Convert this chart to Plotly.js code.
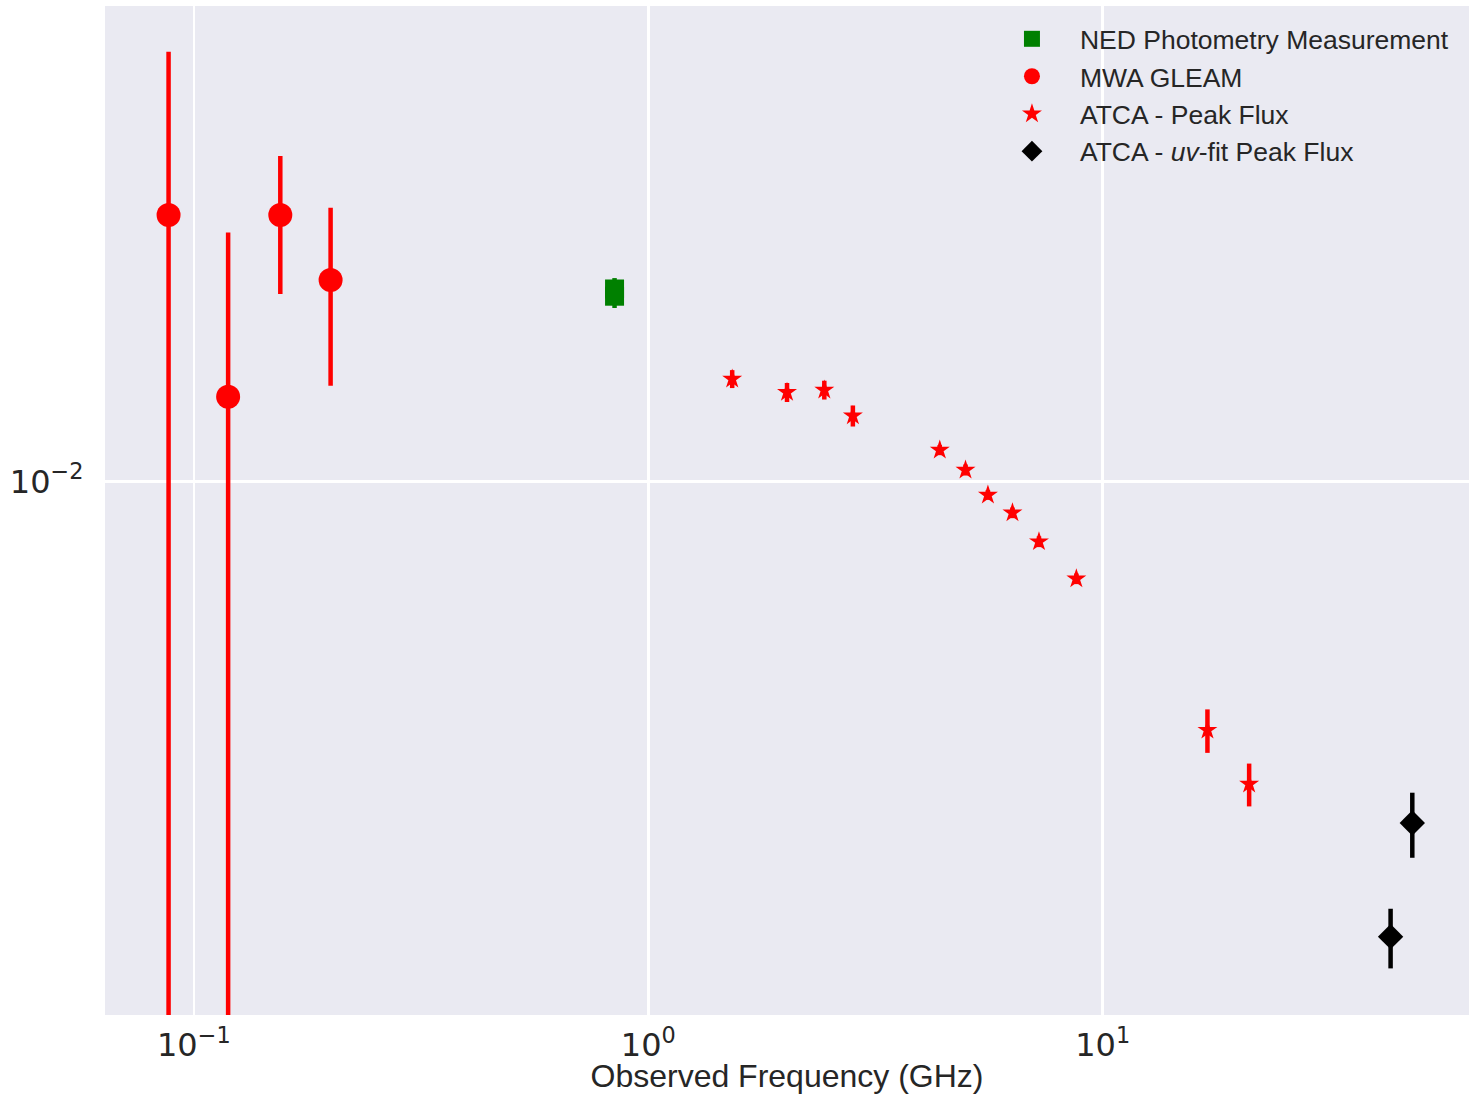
<!DOCTYPE html>
<html>
<head>
<meta charset="utf-8">
<script src="https://cdn.plot.ly/plotly-3.0.1.min.js"></script>
<style>
  html, body { margin: 0; padding: 0; background: #ffffff; }
  #sed { width: 1471px; height: 1094px; }
</style>
</head>
<body>
<div id="sed"></div>
<script>
// Radio spectral energy distribution: flux density (Jy) vs observed frequency (GHz)

// NED photometry (843 MHz)
const nedFreq = [0.843, 0.843];
const nedFlux = [0.0229, 0.0222];
const nedErr  = [0.0011, 0.0011];

// MWA GLEAM sub-band fluxes
const gleamFreq = [0.088, 0.119, 0.155, 0.200];
const gleamFlux = [0.0315, 0.0144, 0.0315, 0.0238];
const gleamErr  = [0.0321, 0.0148, 0.0091, 0.0087];

// ATCA peak fluxes
const atcaFreq = [1.53, 2.02, 2.44, 2.82, 4.38, 4.99, 5.59, 6.33, 7.24, 8.75, 17.0, 21.0];
const atcaFlux = [0.01555, 0.01468, 0.01483, 0.01327, 0.01145, 0.01051, 0.00944, 0.00874, 0.00772, 0.00658, 0.00343, 0.00272];
const atcaErr  = [0.0006, 0.0006, 0.0006, 0.0006, 0.00025, 0.00025, 0.0002, 0.0002, 0.00018, 0.00015, 0.00032, 0.00025];

// ATCA uv-plane fitted peak fluxes
const uvFreq = [43.0, 48.0];
const uvFlux = [0.00141, 0.00230];
const uvErr  = [0.00018, 0.00032];

// Decade ticks
const xTickVals = [0.1, 1, 10];
const xTickText = ['10<sup>\u22121</sup>', '10<sup>0</sup>', '10<sup>1</sup>'];
const yTickVals = [0.01];
const yTickText = ['10<sup>\u22122</sup>'];

const textColor = '#262626';

function errY(arr, color) {
  return { type: 'data', array: arr, visible: true, color: color, thickness: 4.5, width: 0 };
}

const traces = [
  {
    x: nedFreq, y: nedFlux, type: 'scatter', mode: 'markers',
    name: 'NED Photometry Measurement',
    marker: { symbol: 'square', size: 19, color: '#008000' },
    error_y: errY(nedErr, '#008000')
  },
  {
    x: gleamFreq, y: gleamFlux, type: 'scatter', mode: 'markers',
    name: 'MWA GLEAM',
    marker: { symbol: 'circle', size: 24, color: '#ff0000' },
    error_y: errY(gleamErr, '#ff0000')
  },
  {
    x: atcaFreq, y: atcaFlux, type: 'scatter', mode: 'markers',
    name: 'ATCA - Peak Flux',
    marker: { symbol: 'star', size: 15, color: '#ff0000' },
    error_y: errY(atcaErr, '#ff0000')
  },
  {
    x: uvFreq, y: uvFlux, type: 'scatter', mode: 'markers',
    name: 'ATCA - <i>uv</i>-fit Peak Flux',
    marker: { symbol: 'diamond', size: 19.5, color: '#000000' },
    error_y: errY(uvErr, '#000000')
  }
];

const tickFont = { family: 'DejaVu Sans', size: 32, color: textColor };

const layout = {
  width: 1471,
  height: 1094,
  margin: { l: 105, r: 2, t: 6, b: 79 },
  paper_bgcolor: '#ffffff',
  plot_bgcolor: '#eaeaf2',
  showlegend: true,
  xaxis: {
    type: 'log',
    range: [-1.1954, 1.806],
    tickmode: 'array',
    tickvals: xTickVals,
    ticktext: xTickText,
    gridcolor: '#ffffff',
    gridwidth: 2.6,
    zeroline: false,
    showline: false,
    ticks: 'outside',
    ticklen: 2,
    tickcolor: 'rgba(0,0,0,0)',
    tickfont: tickFont,
    automargin: false,
    title: {
      text: 'Observed Frequency (GHz)',
      font: { family: 'Liberation Sans, Arial, sans-serif', size: 32, color: textColor },
      standoff: 11
    }
  },
  yaxis: {
    type: 'log',
    range: [-2.9972, -1.1112],
    tickmode: 'array',
    tickvals: yTickVals,
    ticktext: yTickText,
    gridcolor: '#ffffff',
    gridwidth: 2.6,
    zeroline: false,
    showline: false,
    ticks: 'outside',
    ticklen: 14,
    tickcolor: 'rgba(0,0,0,0)',
    tickfont: tickFont,
    automargin: false
  },
  legend: {
    x: 0.6444,
    y: 0.991,
    xanchor: 'left',
    yanchor: 'top',
    bgcolor: 'rgba(0,0,0,0)',
    borderwidth: 0,
    itemwidth: 86,
    font: { family: 'Liberation Sans, Arial, sans-serif', size: 26.5, color: textColor }
  }
};

Plotly.newPlot('sed', traces, layout, { displayModeBar: false, staticPlot: true });
</script>
</body>
</html>
